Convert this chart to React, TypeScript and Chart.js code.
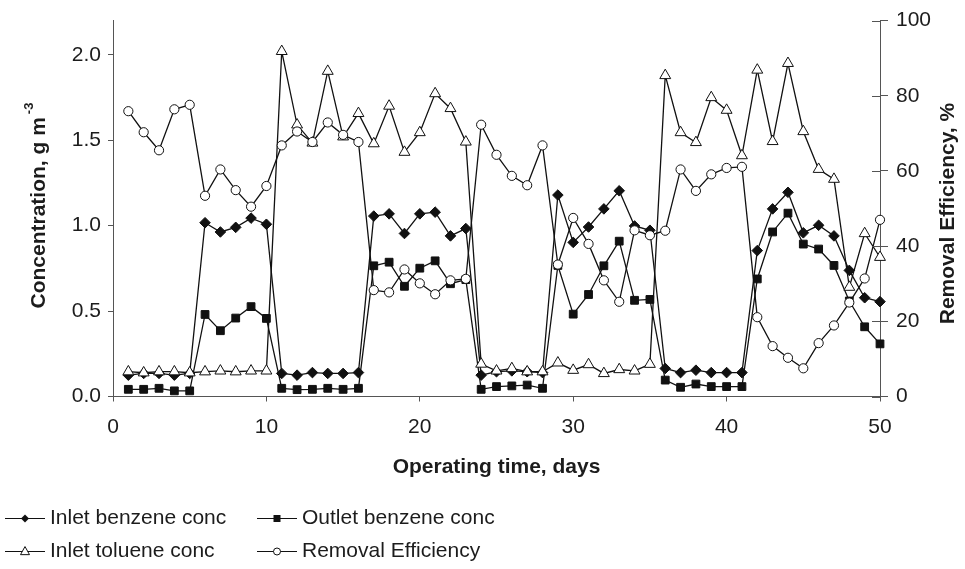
import React, { useEffect, useRef } from 'react';
import { Chart, registerables } from 'chart.js';

Chart.register(...registerables);

// ---- data ----
const days = [1, 2, 3, 4, 5, 6, 7, 8, 9, 10, 11, 12, 13, 14, 15, 16, 17, 18, 19, 20, 21, 22, 23, 24, 25, 26, 27, 28, 29, 30, 31, 32, 33, 34, 35, 36, 37, 38, 39, 40, 41, 42, 43, 44, 45, 46, 47, 48, 49, 50, 51];

const inletBenzene = [0.125, 0.135, 0.135, 0.125, 0.135, 1.017, 0.963, 0.99, 1.044, 1.008, 0.135, 0.125, 0.14, 0.135, 0.135, 0.14, 1.056, 1.069, 0.954, 1.069, 1.079, 0.94, 0.983, 0.125, 0.145, 0.15, 0.145, 0.14, 1.179, 0.902, 0.992, 1.098, 1.204, 0.998, 0.973, 0.164, 0.14, 0.154, 0.14, 0.14, 0.14, 0.854, 1.098, 1.195, 0.958, 1.002, 0.94, 0.738, 0.578, 0.555, 0.69];

const outletBenzene = [0.042, 0.042, 0.048, 0.033, 0.033, 0.48, 0.385, 0.459, 0.526, 0.457, 0.048, 0.04, 0.042, 0.048, 0.042, 0.048, 0.765, 0.786, 0.645, 0.751, 0.794, 0.66, 0.684, 0.042, 0.058, 0.062, 0.067, 0.048, 0.767, 0.482, 0.597, 0.765, 0.909, 0.563, 0.568, 0.096, 0.054, 0.073, 0.058, 0.058, 0.058, 0.688, 0.963, 1.073, 0.892, 0.863, 0.767, 0.559, 0.408, 0.308, 0.48];

const inletToluene = [0.145, 0.139, 0.145, 0.145, 0.139, 0.145, 0.15, 0.145, 0.15, 0.15, 2.02, 1.59, 1.484, 1.904, 1.52, 1.657, 1.48, 1.7, 1.43, 1.545, 1.773, 1.686, 1.49, 0.19, 0.15, 0.164, 0.145, 0.145, 0.197, 0.154, 0.187, 0.135, 0.158, 0.15, 0.189, 1.879, 1.545, 1.487, 1.75, 1.676, 1.41, 1.911, 1.493, 1.95, 1.551, 1.33, 1.272, 0.64, 0.954, 0.815, 1.04];

const removalEfficiency = [75.9, 70.3, 65.5, 76.4, 77.6, 53.4, 60.4, 54.9, 50.5, 56.0, 66.8, 70.5, 67.7, 72.9, 69.6, 67.7, 28.3, 27.7, 33.8, 30.1, 27.2, 30.9, 31.3, 72.3, 64.3, 58.7, 56.2, 66.8, 35.1, 47.5, 40.6, 30.9, 25.2, 44.2, 42.9, 44.1, 60.4, 54.7, 59.1, 60.8, 61.1, 21.1, 13.4, 10.3, 7.5, 14.2, 18.9, 25.0, 31.4, 47.0, 37.5];

const leftTicks = [0, 0.5, 1.0, 1.5, 2.0];
const seriesNames = ['Inlet benzene conc', 'Outlet benzene conc', 'Inlet toluene conc', 'Removal Efficiency'];
const xTitle = 'Operating time, days';
const leftTitle = 'Concentration, g m';
const leftTitleSup = '-3';
const rightTitle = 'Removal Efficiency, %';

// ---- styles ----
const FONT = '"Liberation Sans", Arial, Helvetica, sans-serif';
const INK = '#1c1c1c';
const AXIS = '#555555';
const LINE = '#111111';

function drawMarker(ctx: CanvasRenderingContext2D, style: string, x: number, y: number, r: number) {
  ctx.beginPath();
  if (style === 'diamond') {
    ctx.moveTo(x, y - r); ctx.lineTo(x + r, y); ctx.lineTo(x, y + r); ctx.lineTo(x - r, y); ctx.closePath();
    ctx.fillStyle = LINE; ctx.fill();
  } else if (style === 'square') {
    ctx.rect(x - r, y - r, 2 * r, 2 * r);
    ctx.fillStyle = LINE; ctx.fill();
  } else if (style === 'triangle') {
    ctx.moveTo(x, y - r * 1.1); ctx.lineTo(x + r, y + r * 0.7); ctx.lineTo(x - r, y + r * 0.7); ctx.closePath();
    ctx.fillStyle = '#fff'; ctx.fill(); ctx.strokeStyle = LINE; ctx.lineWidth = 1; ctx.stroke();
  } else {
    ctx.arc(x, y, r, 0, Math.PI * 2);
    ctx.fillStyle = '#fff'; ctx.fill(); ctx.strokeStyle = LINE; ctx.lineWidth = 1; ctx.stroke();
  }
}

const decorPlugin = {
  id: 'decor',
  afterDraw(chart: any) {
    const ctx: CanvasRenderingContext2D = chart.ctx;
    const area = chart.chartArea;
    const y1 = chart.scales.y1;
    ctx.save();
    // inner half of right axis cross ticks
    ctx.strokeStyle = AXIS;
    ctx.lineWidth = 1;
    y1.ticks.forEach((t: any) => {
      const py = Math.round(y1.getPixelForValue(t.value)) + 0.5;
      ctx.beginPath();
      ctx.moveTo(area.right - 8, py);
      ctx.lineTo(area.right, py);
      ctx.stroke();
    });

    ctx.fillStyle = INK;
    ctx.textBaseline = 'middle';
    // x title
    ctx.font = `bold 21px ${FONT}`;
    ctx.textAlign = 'center';
    ctx.fillText(xTitle, (area.left + area.right) / 2, 467);

    // left title
    ctx.save();
    ctx.translate(39, (area.top + area.bottom) / 2 - 3);
    ctx.rotate(-Math.PI / 2);
    ctx.font = `bold 21px ${FONT}`;
    const w1 = ctx.measureText(leftTitle).width;
    ctx.font = `bold 13px ${FONT}`;
    const w2 = ctx.measureText(leftTitleSup).width;
    const total = w1 + 3 + w2;
    ctx.textAlign = 'left';
    ctx.font = `bold 21px ${FONT}`;
    ctx.fillText(leftTitle, -total / 2, 0);
    ctx.font = `bold 13px ${FONT}`;
    ctx.fillText(leftTitleSup, -total / 2 + w1 + 3, -10);
    ctx.restore();

    // right title
    ctx.save();
    ctx.translate(948, (area.top + area.bottom) / 2 + 5);
    ctx.rotate(-Math.PI / 2);
    ctx.font = `bold 21px ${FONT}`;
    ctx.textAlign = 'center';
    ctx.fillText(rightTitle, 0, 0);
    ctx.restore();

    // legend
    const items = [
      { name: seriesNames[0], style: 'diamond', r: 4, x: 5, y: 518 },
      { name: seriesNames[1], style: 'square', r: 3.5, x: 257, y: 518 },
      { name: seriesNames[2], style: 'triangle', r: 4.5, x: 5, y: 551 },
      { name: seriesNames[3], style: 'circle', r: 3.5, x: 257, y: 551 },
    ];
    items.forEach((it) => {
      ctx.strokeStyle = LINE;
      ctx.lineWidth = 1.2;
      ctx.beginPath();
      ctx.moveTo(it.x, it.y + 0.5);
      ctx.lineTo(it.x + 40, it.y + 0.5);
      ctx.stroke();
      drawMarker(ctx, it.style, it.x + 20, it.y + 0.5, it.r);
      ctx.fillStyle = INK;
      ctx.font = `21px ${FONT}`;
      ctx.textAlign = 'left';
      ctx.textBaseline = 'middle';
      ctx.fillText(it.name, it.x + 45, it.y);
    });
    ctx.restore();
  },
};

export default function App() {
  const ref = useRef<HTMLCanvasElement | null>(null);

  useEffect(() => {
    document.body.style.margin = '0';
    const canvas = ref.current;
    if (!canvas) return;
    const pts = (arr: number[]) => days.map((d, i) => ({ x: d, y: arr[i] }));
    const clip = { left: 10, top: 10, right: 7, bottom: 10 };
    const common = {
      borderColor: LINE,
      borderWidth: 1.3,
      pointBorderColor: LINE,
      pointBorderWidth: 1,
      tension: 0,
      clip,
    };
    const chart = new Chart(canvas, {
      type: 'line',
      data: {
        datasets: [
          { ...common, label: seriesNames[3], data: pts(removalEfficiency), yAxisID: 'y1', pointStyle: 'circle', pointRadius: 4.6, pointBackgroundColor: '#ffffff' },
          { ...common, label: seriesNames[2], data: pts(inletToluene), yAxisID: 'y', pointStyle: 'triangle', pointRadius: 6.3, pointBackgroundColor: '#ffffff' },
          { ...common, label: seriesNames[1], data: pts(outletBenzene), yAxisID: 'y', pointStyle: 'rect', pointRadius: 5.5, pointBackgroundColor: LINE },
          { ...common, label: seriesNames[0], data: pts(inletBenzene), yAxisID: 'y', pointStyle: 'rectRot', pointRadius: 5.3, pointBackgroundColor: LINE },
        ],
      } as any,
      options: {
        animation: false,
        responsive: true,
        maintainAspectRatio: false,
        layout: { padding: { top: 17, left: 0, right: 0, bottom: 0 } },
        plugins: { legend: { display: false }, tooltip: { enabled: false } },
        events: [],
        scales: {
          x: {
            type: 'linear',
            min: 0,
            max: 50,
            ticks: { stepSize: 10, color: INK, font: { size: 21, family: FONT }, padding: 13, maxRotation: 0 },
            grid: { drawOnChartArea: false, drawTicks: true, tickLength: 5, color: AXIS },
            border: { color: AXIS, width: 1 },
            afterFit: (s: any) => { s.height = 172.5; },
          },
          y: {
            type: 'linear',
            position: 'left',
            min: 0,
            max: 2.2,
            afterBuildTicks: (s: any) => { s.ticks = leftTicks.map((v) => ({ value: v })); },
            ticks: { color: INK, font: { size: 21, family: FONT }, padding: 7, callback: (v: any) => Number(v).toFixed(1) },
            grid: { drawOnChartArea: false, drawTicks: true, tickLength: 5, color: AXIS },
            border: { color: AXIS, width: 1 },
            afterFit: (s: any) => { s.width = 113; },
          },
          y1: {
            type: 'linear',
            position: 'right',
            min: 0,
            max: 100,
            ticks: { stepSize: 20, color: INK, font: { size: 21, family: FONT }, padding: 8 },
            grid: { drawOnChartArea: false, drawTicks: true, tickLength: 8, color: AXIS },
            border: { color: AXIS, width: 1 },
            afterFit: (s: any) => { s.width = 85; },
          },
        },
      } as any,
      plugins: [decorPlugin],
    });
    return () => chart.destroy();
  }, []);

  return (
    <div style={{ width: 965, height: 569, position: 'relative', background: '#fff' }}>
      <canvas ref={ref} />
    </div>
  );
}
